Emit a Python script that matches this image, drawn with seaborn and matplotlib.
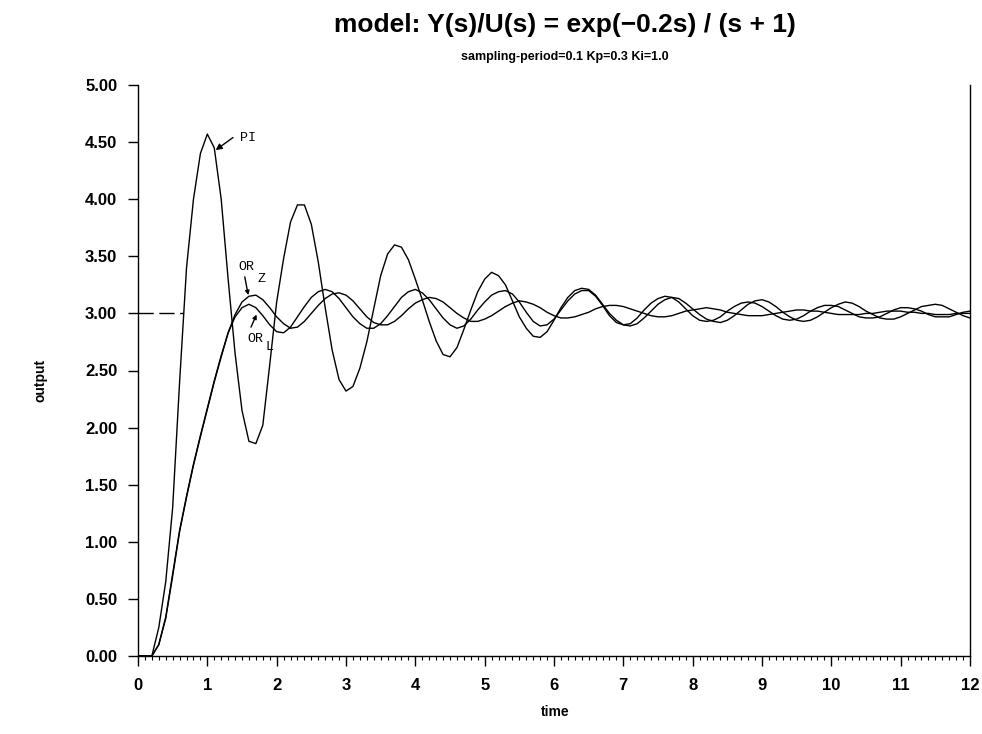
import numpy as np
import pandas as pd
import matplotlib
matplotlib.use("Agg")
import matplotlib.pyplot as plt
from matplotlib.ticker import MultipleLocator, FormatStrFormatter
import seaborn as sns

# ---------------- data ----------------
time = [round(0.1 * i, 1) for i in range(121)]

pi_out = [0, 0, 0, 0.25, 0.65, 1.3, 2.4, 3.4, 4.0, 4.4,
          4.57, 4.45, 4.0, 3.3, 2.65, 2.15, 1.88, 1.86, 2.02, 2.55,
          3.1, 3.48, 3.8, 3.95, 3.95, 3.78, 3.45, 3.05, 2.68, 2.42,
          2.32, 2.36, 2.52, 2.75, 3.04, 3.33, 3.52, 3.6, 3.58, 3.47,
          3.3, 3.12, 2.93, 2.76, 2.64, 2.62, 2.7, 2.86, 3.03, 3.19,
          3.3, 3.36, 3.33, 3.25, 3.11, 2.97, 2.87, 2.8, 2.79, 2.84,
          2.94, 3.05, 3.14, 3.2, 3.22, 3.21, 3.16, 3.08, 3.0, 2.94,
          2.9, 2.89, 2.91, 2.96, 3.02, 3.08, 3.12, 3.14, 3.13, 3.09,
          3.04, 2.99, 2.95, 2.93, 2.92, 2.94, 2.98, 3.03, 3.08, 3.11,
          3.12, 3.1, 3.06, 3.01, 2.97, 2.94, 2.93, 2.94, 2.97, 3.01,
          3.05, 3.08, 3.1, 3.09, 3.06, 3.02, 2.99, 2.96, 2.95, 2.95,
          2.97, 3.0, 3.03, 3.06, 3.07, 3.08, 3.07, 3.04, 3.01, 2.98,
          2.96]

orz_out = [0, 0, 0, 0.1, 0.34, 0.72, 1.1, 1.4, 1.68, 1.93,
           2.17, 2.41, 2.63, 2.83, 2.99, 3.1, 3.15, 3.16, 3.12, 3.05,
           2.97, 2.91, 2.87, 2.88, 2.93, 3.0, 3.07, 3.13, 3.17, 3.18,
           3.16, 3.11, 3.04, 2.97, 2.92, 2.9, 2.9, 2.93, 2.98, 3.04,
           3.09, 3.12, 3.14, 3.13, 3.1, 3.05, 3.0, 2.96, 2.93, 2.93,
           2.95, 2.98, 3.02, 3.06, 3.09, 3.11, 3.1, 3.08, 3.05, 3.01,
           2.98, 2.96, 2.96, 2.97, 2.99, 3.01, 3.04, 3.06, 3.07, 3.07,
           3.06, 3.04, 3.02, 3.0, 2.98, 2.97, 2.97, 2.98, 3.0, 3.02,
           3.03, 3.04, 3.05, 3.04, 3.03, 3.01, 3.0, 2.99, 2.98, 2.98,
           2.98, 2.99, 3.0, 3.01, 3.02, 3.03, 3.03, 3.02, 3.02, 3.01,
           3.0, 2.99, 2.99, 2.99, 2.99, 3.0, 3.0, 3.01, 3.02, 3.02,
           3.02, 3.01, 3.01, 3.0, 3.0, 2.99, 2.99, 2.99, 3.0, 3.0,
           3.0]

orl_out = [0, 0, 0, 0.1, 0.33, 0.7, 1.09, 1.39, 1.67, 1.92,
           2.16, 2.4, 2.62, 2.83, 2.97, 3.05, 3.08, 3.05, 2.98, 2.9,
           2.84, 2.83, 2.88, 2.97, 3.06, 3.14, 3.19, 3.21, 3.19, 3.13,
           3.05, 2.97, 2.91, 2.87, 2.87, 2.91, 2.98, 3.06, 3.14, 3.19,
           3.21, 3.18, 3.12, 3.04, 2.96, 2.9, 2.87, 2.89, 2.95, 3.03,
           3.1, 3.16, 3.19, 3.2, 3.17, 3.1, 3.01, 2.93, 2.89, 2.9,
           2.95, 3.03, 3.11, 3.17, 3.2, 3.2, 3.15, 3.07, 2.98, 2.92,
           2.9, 2.91, 2.96, 3.03, 3.09, 3.13, 3.15, 3.14, 3.1, 3.04,
           2.98, 2.94, 2.93, 2.94, 2.97, 3.02, 3.06, 3.09, 3.1, 3.09,
           3.06, 3.02, 2.98, 2.95, 2.94, 2.95, 2.98, 3.02, 3.05, 3.07,
           3.07, 3.06, 3.03, 3.0, 2.97, 2.96, 2.96, 2.97, 3.0, 3.03,
           3.05, 3.05, 3.04, 3.02, 2.99, 2.97, 2.97, 2.97, 2.99, 3.01,
           3.02]

series_names = ["PI", "OR_Z", "OR_L"]
setpoint_time = [0.0, 0.65]
setpoint_value = [3.0, 3.0]

df = pd.DataFrame({
    "time": time * 3,
    "output": pi_out + orz_out + orl_out,
    "series": [series_names[0]] * len(time) + [series_names[1]] * len(time)
              + [series_names[2]] * len(time),
})

# ---------------- figure ----------------
sns.set_theme(style="ticks")
plt.rcParams["font.family"] = ["Liberation Sans", "DejaVu Sans"]

W, H = 982, 734
fig = plt.figure(figsize=(W / 100, H / 100), dpi=100)
ax_l, ax_r, ax_b, ax_t = 138, 970, 656, 85
ax = fig.add_axes([ax_l / W, 1 - ax_b / H, (ax_r - ax_l) / W, (ax_b - ax_t) / H])

for name in series_names:
    sub = df[df["series"] == name]
    sns.lineplot(data=sub, x="time", y="output", color="black", lw=1.0,
                 estimator=None, sort=False, ax=ax, legend=False)

sns.lineplot(x=setpoint_time, y=setpoint_value, color="black", lw=1.0,
             estimator=None, ax=ax, legend=False, dashes=False)
ax.lines[-1].set_linestyle((0, (11, 4)))

ax.set_xlim(0, 12)
ax.set_ylim(0, 5)
ax.xaxis.set_major_locator(MultipleLocator(1))
ax.xaxis.set_minor_locator(MultipleLocator(0.1))
ax.yaxis.set_major_locator(MultipleLocator(0.5))
ax.yaxis.set_major_formatter(FormatStrFormatter("%.2f"))
ax.tick_params(axis="both", which="major", length=7, width=1.0, color="black",
               direction="out", labelsize=12, labelcolor="black")
ax.tick_params(axis="x", which="major", pad=9)
ax.tick_params(axis="y", which="major", pad=8)
ax.tick_params(axis="x", which="minor", length=3, width=0.8, color="black",
               direction="out")
for lab in ax.get_xticklabels() + ax.get_yticklabels():
    lab.set_fontweight("bold")

ax.spines["top"].set_visible(False)
for s in ["left", "bottom", "right"]:
    ax.spines[s].set_color("black")
    ax.spines[s].set_linewidth(1.0)
ax.set_xlabel("")
ax.set_ylabel("")
ax.grid(False)

# ---------------- annotations ----------------
mono = ["Liberation Mono", "DejaVu Sans Mono"]
ax.annotate("", xy=(1.12, 4.43), xytext=(1.37, 4.54),
            arrowprops=dict(arrowstyle="-|>", color="black", lw=1.0,
                            mutation_scale=9, shrinkA=0, shrinkB=0))
ax.text(1.47, 4.54, "PI", family=mono, fontsize=9.5, ha="left", va="center",
        color="black")

ax.annotate("", xy=(1.59, 3.16), xytext=(1.54, 3.32),
            arrowprops=dict(arrowstyle="-|>", color="black", lw=1.0,
                            mutation_scale=6, shrinkA=0, shrinkB=0))
ax.text(1.45, 3.41, "OR", family=mono, fontsize=9.5, ha="left", va="center",
        color="black")
ax.text(1.73, 3.30, "Z", family=mono, fontsize=9.5, ha="left", va="center",
        color="black")

ax.annotate("", xy=(1.71, 2.99), xytext=(1.63, 2.88),
            arrowprops=dict(arrowstyle="-|>", color="black", lw=1.0,
                            mutation_scale=6, shrinkA=0, shrinkB=0))
ax.text(1.58, 2.78, "OR", family=mono, fontsize=9.5, ha="left", va="center",
        color="black")
ax.text(1.84, 2.71, "L", family=mono, fontsize=9.5, ha="left", va="center",
        color="black")

# ---------------- titles and axis labels ----------------
fig.text(565 / W, 1 - 25 / H, "model: Y(s)/U(s) = exp(\u22120.2s) / (s + 1)",
         ha="center", va="center", fontsize=19, fontweight="bold", color="black")
fig.text(565 / W, 1 - 57 / H, "sampling-period=0.1 Kp=0.3 Ki=1.0",
         ha="center", va="center", fontsize=9, fontweight="bold", color="black")
fig.text(555 / W, 1 - 712 / H, "time", ha="center", va="center",
         fontsize=10, fontweight="bold", color="black")
fig.text(40 / W, 1 - 380 / H, "output", ha="center", va="center", rotation=90,
         fontsize=10, fontweight="bold", color="black")

fig.savefig("out.png", dpi=100, facecolor="white")
